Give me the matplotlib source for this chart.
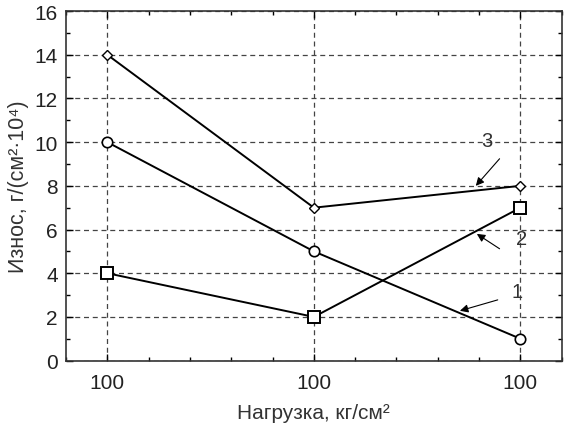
import matplotlib
matplotlib.use('Agg')
import matplotlib.pyplot as plt
from matplotlib.ticker import MultipleLocator

plt.rcParams['font.family'] = ['Liberation Sans', 'DejaVu Sans']

x_labels = ['100', '100', '100']
x_pos = [0, 1, 2]
wear_1 = [10, 5, 1]      # circles
wear_2 = [4, 2, 7]       # squares
wear_3 = [14, 7, 8]      # diamonds

curve_names = ['1', '2', '3']
label_xy = [(1.986, 3.15), (2.005, 5.58), (1.837, 10.06)]
arrow_from = [(1.89, 2.78), (1.899, 5.12), (1.899, 9.24)]
arrow_to = [(1.707, 2.28), (1.789, 5.80), (1.784, 8.0)]

fig = plt.figure(figsize=(5.64, 4.31), dpi=100)
ax = fig.add_axes([0.117, 0.161, 0.879, 0.811])

ax.plot(x_pos, wear_1, color='black', lw=1.4, marker='o', ms=7.5,
        mfc='white', mec='black', mew=1.2, zorder=3)
ax.plot(x_pos, wear_2, color='black', lw=1.4, marker='s', ms=8,
        mfc='white', mec='black', mew=1.4, zorder=3)
ax.plot(x_pos, wear_3, color='black', lw=1.4, marker='D', ms=5,
        mfc='white', mec='black', mew=1.0, zorder=3)

for name, lxy, a0, a1 in zip(curve_names, label_xy, arrow_from, arrow_to):
    ax.text(lxy[0], lxy[1], name, fontsize=14.5, color='#333333',
            ha='center', va='center')
    ax.annotate('', xy=a1, xytext=a0,
                arrowprops=dict(arrowstyle='-|>', color='black', lw=0.8,
                                mutation_scale=12, shrinkA=0, shrinkB=0))

ax.set_xlim(-0.2, 2.2)
ax.set_ylim(0, 16)
ax.set_xticks(x_pos)
ax.set_xticklabels(x_labels)
ax.xaxis.set_minor_locator(MultipleLocator(0.2))
ax.yaxis.set_major_locator(MultipleLocator(2))
ax.yaxis.set_minor_locator(MultipleLocator(1))

ax.tick_params(which='both', direction='in', top=True, right=True,
               labelsize=15, labelcolor='#222222', width=1.0)
ax.tick_params(which='major', length=5)
ax.tick_params(which='minor', length=3)
ax.tick_params(axis='x', pad=9)
ax.tick_params(axis='y', pad=6)

ax.grid(True, which='major', linestyle=(0, (4, 3)), color='#444444', lw=0.9)

for s in ax.spines.values():
    s.set_linewidth(1.2)
    s.set_color('#333333')

ax.set_xlabel('Нагрузка, кг/см²', fontsize=15, color='#333333', labelpad=8)
ax.set_ylabel('Износ, г/(см²·10⁴)', fontsize=15.5, color='#333333', labelpad=4)

fig.savefig('out.png', dpi=100)
